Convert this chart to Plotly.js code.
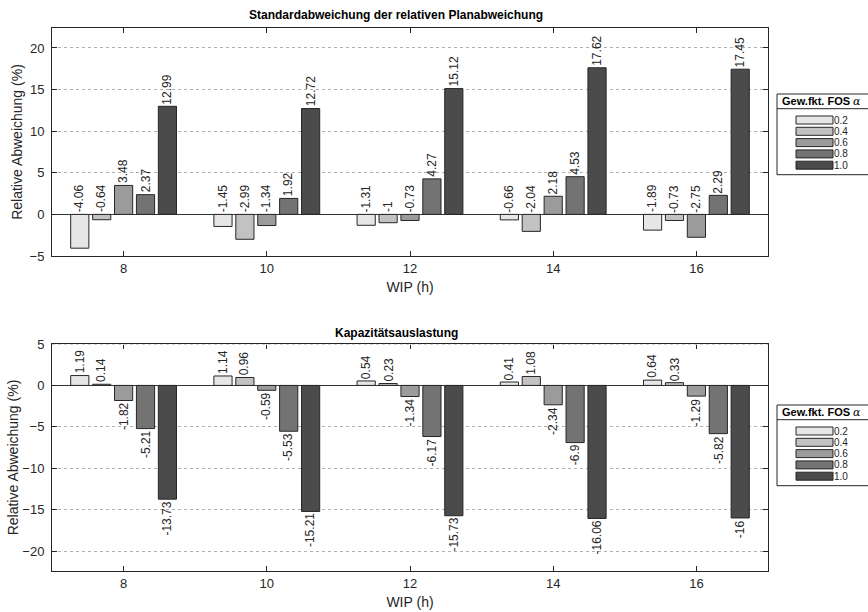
<!DOCTYPE html>
<html>
<head>
<meta charset="utf-8">
<script src="https://cdn.plot.ly/plotly-3.0.1.min.js"></script>
<style>html,body{margin:0;padding:0;background:#fff;}#chart{width:868px;height:612px;}</style>
</head>
<body>
<div id="chart"></div>
<script>
// ---- data ----
var wipHours = [8, 10, 12, 14, 16];
var seriesNames = ['0.2', '0.4', '0.6', '0.8', '1.0'];

// Standardabweichung der relativen Planabweichung
var plan_02 = [-4.06, -1.45, -1.31, -0.66, -1.89];
var plan_04 = [-0.64, -2.99, -1, -2.04, -0.73];
var plan_06 = [3.48, -1.34, -0.73, 2.18, -2.75];
var plan_08 = [2.37, 1.92, 4.27, 4.53, 2.29];
var plan_10 = [12.99, 12.72, 15.12, 17.62, 17.45];

// Kapazitätsauslastung
var kap_02 = [1.19, 1.14, 0.54, 0.41, 0.64];
var kap_04 = [0.14, 0.96, 0.23, 1.08, 0.33];
var kap_06 = [-1.82, -0.59, -1.34, -2.34, -1.29];
var kap_08 = [-5.21, -5.53, -6.17, -6.9, -5.82];
var kap_10 = [-13.73, -15.21, -15.73, -16.06, -16];

var topTitle = 'Standardabweichung der relativen Planabweichung';
var bottomTitle = 'Kapazitätsauslastung';
var xTitle = 'WIP (h)';
var yTitle = 'Relative Abweichung (%)';
var legendTitle = 'Gew.fkt. FOS ';

// ---- styling ----
var barColors = ['#e6e6e6', '#c2c2c2', '#9b9b9b', '#737373', '#4b4b4b'];
var edge = '#262626';
var FONT = '"Liberation Sans", Arial, Helvetica, sans-serif';
var bargap = 0.235, bargroupgap = 0.17;

var planSeries = [plan_02, plan_04, plan_06, plan_08, plan_10];
var kapSeries = [kap_02, kap_04, kap_06, kap_08, kap_10];

// pixel helpers (plot area: x 52..768, y 28..571)
var L = 52, R = 768, T = 28, B = 571;
function px2x(p) { return (p - L) / (R - L); }
function px2y(p) { return (B - p) / (B - T); }

var traces = [];
var annotations = [];
var shapes = [];

var step = wipHours[1] - wipHours[0];
var slot = step * (1 - bargap) / seriesNames.length;

function addSet(series, xa, ya, alwaysAbove) {
  series.forEach(function (vals, i) {
    traces.push({
      type: 'bar', x: wipHours, y: vals, name: seriesNames[i],
      xaxis: xa, yaxis: ya, showlegend: false, hoverinfo: 'skip',
      marker: { color: barColors[i], line: { color: edge, width: 1 } }
    });
    vals.forEach(function (v, j) {
      var xpos = wipHours[j] + (i - (series.length - 1) / 2) * slot;
      var above = alwaysAbove || v >= 0;
      annotations.push({
        xref: xa, yref: ya, x: xpos,
        y: alwaysAbove ? Math.max(v, 0) : v,
        text: String(v), showarrow: false, textangle: -90,
        xanchor: 'center', yanchor: above ? 'bottom' : 'top',
        font: { family: FONT, size: 12, color: '#262626' }
      });
    });
  });
}
addSet(planSeries, 'x', 'y', true);
addSet(kapSeries, 'x2', 'y2', false);

// subplot titles
annotations.push({ xref: 'paper', yref: 'paper', x: px2x(396), y: px2y(15), text: '<b>' + topTitle + '</b>',
  showarrow: false, xanchor: 'center', yanchor: 'middle', font: { family: FONT, size: 12, color: '#000' } });
annotations.push({ xref: 'paper', yref: 'paper', x: px2x(396), y: px2y(333), text: '<b>' + bottomTitle + '</b>',
  showarrow: false, xanchor: 'center', yanchor: 'middle', font: { family: FONT, size: 12, color: '#000' } });

// gray top border of lower plot
shapes.push({ type: 'line', xref: 'x2 domain', yref: 'y2', x0: 0, x1: 1, y0: 5, y1: 5, line: { color: '#ffffff', width: 1.5 } });
shapes.push({ type: 'line', xref: 'x2 domain', yref: 'y2', x0: 0, x1: 1, y0: 5, y1: 5, line: { color: '#b0b0b0', width: 1, dash: 'dot' } });

// custom legends
function addLegend(topPx) {
  var boxL = 777, boxR = 874, rowH = 11.3;
  var firstRow = topPx + 26;
  var bottomPx = firstRow + 4 * rowH + 9.5;
  shapes.push({ type: 'rect', xref: 'paper', yref: 'paper', x0: px2x(boxL), x1: px2x(boxR), y0: px2y(bottomPx), y1: px2y(topPx),
    line: { color: edge, width: 1 }, fillcolor: '#ffffff', layer: 'above' });
  shapes.push({ type: 'line', xref: 'paper', yref: 'paper', x0: px2x(boxL), x1: px2x(boxR), y0: px2y(topPx + 14.7), y1: px2y(topPx + 14.7),
    line: { color: edge, width: 1 } });
  annotations.push({ xref: 'paper', yref: 'paper', x: px2x(781), y: px2y(topPx + 7.5),
    text: '<b>' + legendTitle + '</b><span style="font-family:\'DejaVu Serif\';font-style:italic">α</span>',
    showarrow: false, xanchor: 'left', yanchor: 'middle', borderpad: 0,
    font: { family: FONT, size: 11, color: '#000' } });
  seriesNames.forEach(function (nm, i) {
    var cy = firstRow + i * rowH;
    shapes.push({ type: 'rect', xref: 'paper', yref: 'paper', x0: px2x(796), x1: px2x(833), y0: px2y(cy + 4), y1: px2y(cy - 4),
      line: { color: edge, width: 1 }, fillcolor: barColors[i], layer: 'above' });
    annotations.push({ xref: 'paper', yref: 'paper', x: px2x(834), y: px2y(cy), text: nm,
      showarrow: false, xanchor: 'left', yanchor: 'middle', borderpad: 0, borderwidth: 0,
      font: { family: FONT, size: 10, color: '#262626' } });
  });
}
addLegend(94);
addLegend(405);

function xaxisDef(anchor) {
  return {
    anchor: anchor, range: [7, 17], tickvals: wipHours, ticks: 'inside', ticklen: 5, tickcolor: edge,
    showline: true, linecolor: edge, linewidth: 1, mirror: 'ticks', showgrid: false, zeroline: false,
    tickfont: { family: FONT, size: 13, color: '#262626' },
    title: { text: xTitle, standoff: 7, font: { family: FONT, size: 14, color: '#262626' } },
    fixedrange: true
  };
}
function yaxisDef(anchor, range, domain, standoff) {
  return {
    anchor: anchor, range: range, domain: domain, dtick: 5, tick0: 0, ticks: 'inside', ticklen: 5, tickcolor: edge,
    showline: true, linecolor: edge, linewidth: 1, mirror: 'ticks',
    showgrid: true, gridcolor: '#b0b0b0', griddash: 'dot', gridwidth: 1,
    zeroline: true, zerolinecolor: '#333333', zerolinewidth: 1,
    ticklabelstandoff: 4,
    tickfont: { family: FONT, size: 13, color: '#262626' },
    title: { text: yTitle, standoff: standoff, font: { family: FONT, size: 14, color: '#262626' } },
    fixedrange: true
  };
}

var layout = {
  width: 868, height: 612,
  margin: { l: L, r: 868 - R, t: T, b: 612 - B, pad: 0 },
  paper_bgcolor: '#ffffff', plot_bgcolor: '#ffffff',
  barmode: 'group', bargap: bargap, bargroupgap: bargroupgap,
  showlegend: false,
  font: { family: FONT, size: 12, color: '#262626' },
  xaxis: xaxisDef('y'),
  yaxis: yaxisDef('x', [-5, 22.4], [px2y(256), 1], 3),
  xaxis2: xaxisDef('y2'),
  yaxis2: yaxisDef('x2', [-22.4, 5], [0, px2y(344)], 0),
  annotations: annotations,
  shapes: shapes
};

Plotly.newPlot('chart', traces, layout, { displayModeBar: false, staticPlot: true });
</script>
</body>
</html>
